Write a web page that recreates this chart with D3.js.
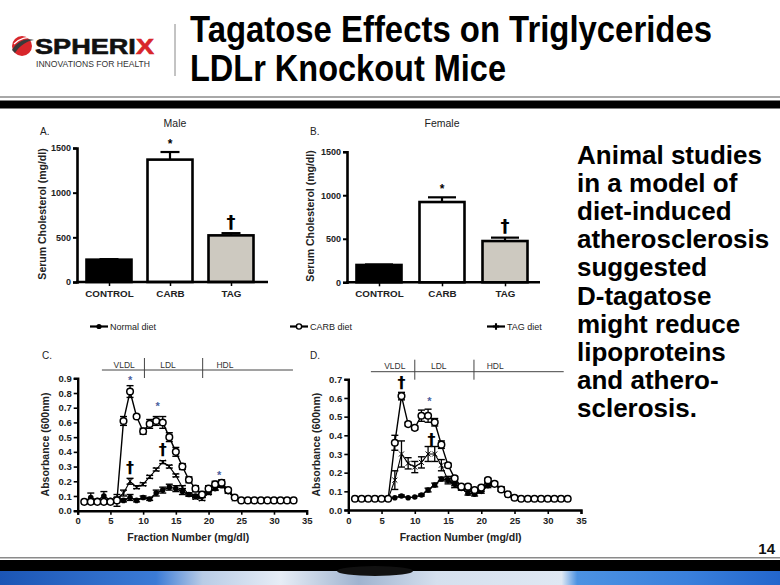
<!DOCTYPE html>
<html><head><meta charset="utf-8">
<script src="https://cdn.jsdelivr.net/npm/d3@7"></script>
<style>body{margin:0;background:#fff;} svg{display:block;}</style>
</head><body><svg id="c" width="780" height="585"></svg>
<script>
// ---------------- data ----------------
const titleLines = ["Tagatose Effects on Triglycerides", "LDLr Knockout Mice"];
const bulletLines = ["Animal studies", "in a model of", "diet-induced", "atherosclerosis",
  "suggested", "D-tagatose", "might reduce", "lipoproteins", "and athero-", "sclerosis."];

const categories = ["CONTROL", "CARB", "TAG"];
const maleMeans = [250, 1370, 522];
const maleErrors = [6, 85, 25];
const femaleMeans = [199, 922, 474];
const femaleErrors = [6, 54, 39];
const barTicks = [0, 500, 1000, 1500];
const barMarks = ["", "*", "\u2020"];

const fractions = [1,2,3,4,5,6,7,8,9,10,11,12,13,14,15,16,17,18,19,20,21,22,23,24,25,26,27,28,29,30,31,32,33];
const cNormal = [0.06,0.09,0.07,0.10,0.07,0.08,0.07,0.09,0.07,0.09,0.08,0.12,0.14,0.16,0.15,0.13,0.11,0.10,0.10,0.13,0.15,0.17,0.13,0.09,0.07,0.07,0.07,0.07,0.07,0.07,0.07,0.07,0.07];
const cNormalErr = [0,0.03,0,0.03,0,0.01,0.01,0.02,0.01,0.01,0.01,0.02,0.02,0.02,0.02,0.02,0.01,0.01,0.01,0.01,0.01,0.01,0.01,0,0,0,0,0,0,0,0,0,0];
const cCarb = [0.06,0.06,0.06,0.06,0.06,0.07,0.61,0.81,0.64,0.54,0.59,0.61,0.60,0.50,0.40,0.30,0.21,0.15,0.11,0.15,0.18,0.19,0.14,0.09,0.07,0.07,0.07,0.07,0.07,0.07,0.07,0.07,0.07];
const cCarbErr = [0,0,0,0,0,0.04,0.03,0.04,0.01,0.02,0.03,0.03,0.04,0.03,0.03,0.02,0.02,0.02,0.02,0.02,0.02,0.02,0.01,0,0,0,0,0,0,0,0,0,0];
const cTag = [0.06,0.06,0.06,0.06,0.06,0.08,0.12,0.20,0.16,0.18,0.23,0.28,0.33,0.30,0.24,0.16,0.11,0.09,0.08,0.12,0.15,0.17,0.13,0.08,0.07,0.07,0.07,0.07,0.07,0.07,0.07,0.07,0.07];
const cTagErr = [0,0,0,0,0,0.01,0.02,0.02,0.01,0.01,0.01,0.01,0.01,0.01,0.01,0.01,0.01,0.01,0.01,0.01,0.01,0.01,0.01,0,0,0,0,0,0,0,0,0,0];

const dNormal = [0.06,0.06,0.06,0.06,0.06,0.06,0.066,0.075,0.066,0.07,0.08,0.107,0.134,0.166,0.16,0.14,0.116,0.09,0.085,0.10,0.13,0.14,0.11,0.08,0.065,0.06,0.06,0.06,0.06,0.06,0.06,0.06,0.06];
const dNormalErr = [0,0,0,0,0,0,0,0.005,0,0,0.005,0.01,0.01,0.01,0.01,0.01,0.01,0.01,0.01,0.01,0.01,0.01,0.01,0,0,0,0,0,0,0,0,0,0];
const dCarb = [0.06,0.06,0.06,0.06,0.06,0.06,0.36,0.61,0.46,0.44,0.505,0.505,0.47,0.35,0.24,0.17,0.125,0.125,0.107,0.12,0.16,0.14,0.11,0.084,0.066,0.06,0.06,0.06,0.06,0.06,0.06,0.06,0.06];
const dCarbErr = [0,0,0,0,0,0,0.04,0.02,0.01,0.01,0.03,0.035,0.02,0.02,0.01,0.01,0.01,0.01,0.01,0.01,0.01,0.01,0.01,0,0,0,0,0,0,0,0,0,0];
const dTag = [0.06,0.06,0.06,0.06,0.06,0.06,0.16,0.30,0.25,0.23,0.255,0.30,0.30,0.24,0.16,0.13,0.12,0.11,0.10,0.11,0.14,0.14,0.115,0.08,0.065,0.06,0.06,0.06,0.06,0.06,0.06,0.06,0.06];
const dTagErr = [0,0,0,0,0,0,0.05,0.07,0.03,0.03,0.03,0.04,0.04,0.03,0.02,0.01,0.01,0.01,0.01,0.01,0.01,0.01,0.01,0,0,0,0,0,0,0,0,0,0];

const fractionTicks = [0,5,10,15,20,25,30,35];
const absTicksC = [0,0.1,0.2,0.3,0.4,0.5,0.6,0.7,0.8,0.9];
const absTicksD = [0,0.1,0.2,0.3,0.4,0.5,0.6,0.7];
const lipoNames = ["VLDL", "LDL", "HDL"];
const lipoLabelC = [7.1, 13.8, 22.5];
const lipoEdgesC = [3.7, 10.2, 19.1, 32.9];
const lipoLabelD = [7.0, 13.6, 22.1];
const lipoEdgesD = [3.4, 10.0, 18.9, 32.4];
const marksC = [{f:8, v:0.91, s:"*"}, {f:12.2, v:0.73, s:"*"}, {f:21.6, v:0.26, s:"*"}, {f:8, v:0.29, s:"\u2020"}, {f:13, v:0.41, s:"\u2020"}];
const marksD = [{f:8, v:0.68, s:"\u2020"}, {f:12.2, v:0.6, s:"*"}, {f:12.5, v:0.375, s:"\u2020"}];
const legendNames = ["Normal diet", "CARB diet", "TAG diet"];

// ---------------- drawing ----------------
const svg = d3.select("#c");
const SANS = "'Liberation Sans', Arial, sans-serif";
const NARROW = "'Liberation Sans Narrow', 'Arial Narrow', 'Liberation Sans', sans-serif";
svg.append("rect").attr("width", 780).attr("height", 585).attr("fill", "#fff");

// Header
const logo = svg.append("g");
logo.append("circle").attr("cx", 22).attr("cy", 46).attr("r", 10).attr("fill", "#d8262b");
logo.append("path").attr("d", "M12,50 C18,40 28,38 34,40 C27,41 20,45 15,53 Z").attr("fill", "#3a3a3a");
logo.append("path").attr("d", "M14,44 C20,38 27,37 31,38").attr("fill", "none").attr("stroke", "#fff").attr("stroke-width", 1.2);
const sp = logo.append("text").attr("x", 35).attr("y", 54).attr("font-family", SANS).attr("font-weight", "bold")
  .attr("font-size", 22).attr("textLength", 119).attr("lengthAdjust", "spacingAndGlyphs")
  .attr("stroke", "#111").attr("stroke-width", 0.6);
sp.append("tspan").text("SPHERI").attr("fill", "#111");
sp.append("tspan").text("X").attr("fill", "#d8262b").attr("stroke", "#d8262b");
logo.append("text").attr("x", 36).attr("y", 67).attr("font-family", NARROW).attr("font-size", 9)
  .attr("fill", "#333").attr("textLength", 114).attr("lengthAdjust", "spacingAndGlyphs").text("INNOVATIONS FOR HEALTH");
svg.append("line").attr("x1", 175).attr("x2", 175).attr("y1", 24).attr("y2", 76).attr("stroke", "#888").attr("stroke-width", 1);

const titleLens = [522, 316];
svg.selectAll("text.title").data(titleLines).join("text").attr("class", "title")
  .attr("x", 190).attr("y", (d, i) => 42 + i * 38.5)
  .attr("font-family", NARROW).attr("font-weight", "bold").attr("font-size", 36).attr("fill", "#000")
  .attr("textLength", (d, i) => titleLens[i]).attr("lengthAdjust", "spacingAndGlyphs").text(d => d);

svg.append("rect").attr("x", 0).attr("y", 96).attr("width", 780).attr("height", 2).attr("fill", "#a8a8a8");
svg.append("rect").attr("x", 0).attr("y", 100.5).attr("width", 780).attr("height", 8).attr("fill", "#000");

// Bullet text
svg.selectAll("text.bullet").data(bulletLines).join("text").attr("class", "bullet")
  .attr("x", 577).attr("y", (d, i) => 164.3 + i * 28.04)
  .attr("font-family", SANS).attr("font-weight", "bold").attr("font-size", 26).attr("fill", "#000").text(d => d);

// ---- Bar panels ----
function barPanel(p) {
  const g = svg.append("g");
  const y = d3.scaleLinear().domain([0, 1500]).range(p.yRange);
  const x = d3.scalePoint().domain(categories).range(p.xRange);
  const bw = 45;
  const fills = ["#000", "#fff", "#cdc9c0"];
  g.selectAll("rect.bar").data(categories).join("rect")
    .attr("x", d => x(d) - bw / 2).attr("width", bw)
    .attr("y", (d, i) => y(p.means[i])).attr("height", (d, i) => y(0) - y(p.means[i]))
    .attr("fill", (d, i) => fills[i]).attr("stroke", "#000").attr("stroke-width", 2.6);
  const eg = g.selectAll("g.err").data(categories).join("g");
  eg.append("line").attr("x1", d => x(d)).attr("x2", d => x(d))
    .attr("y1", (d, i) => y(p.means[i])).attr("y2", (d, i) => y(p.means[i] + p.errs[i]))
    .attr("stroke", "#000").attr("stroke-width", 2.2);
  eg.append("line").attr("x1", d => x(d) - p.cap / 2).attr("x2", d => x(d) + p.cap / 2)
    .attr("y1", (d, i) => y(p.means[i] + p.errs[i])).attr("y2", (d, i) => y(p.means[i] + p.errs[i]))
    .attr("stroke", "#000").attr("stroke-width", 2.2);
  g.selectAll("text.mk").data(categories).join("text")
    .attr("x", d => x(d)).attr("y", (d, i) => y(p.means[i] + p.errs[i]) - (barMarks[i] === "*" ? 4.5 : 5.5))
    .attr("text-anchor", "middle")
    .attr("font-family", (d, i) => barMarks[i] === "*" ? SANS : "'DejaVu Sans', sans-serif")
    .attr("font-weight", "bold").attr("font-size", (d, i) => barMarks[i] === "*" ? 12 : 18)
    .text((d, i) => barMarks[i]);
  const ya = g.append("g").attr("transform", `translate(${p.axisX},0)`)
    .call(d3.axisLeft(y).tickValues(barTicks).tickSize(4).tickPadding(2).tickFormat(d3.format("d")));
  ya.select(".domain").attr("stroke-width", 2.6);
  ya.selectAll(".tick line").attr("stroke-width", 2);
  ya.selectAll("text").attr("font-family", SANS).attr("font-weight", "bold").attr("font-size", 9).attr("fill", "#222");
  g.append("line").attr("x1", p.axisX - 1).attr("x2", p.axisEnd).attr("y1", y(0)).attr("y2", y(0))
    .attr("stroke", "#000").attr("stroke-width", 2.6);
  const xa = g.append("g").attr("transform", `translate(0,${y(0)})`)
    .call(d3.axisBottom(x).tickSize(4).tickPadding(4));
  xa.select(".domain").remove();
  xa.selectAll(".tick line").attr("stroke-width", 1.5);
  xa.selectAll("text").attr("font-family", SANS).attr("font-weight", "bold").attr("font-size", 9.8).attr("fill", "#222");
  g.append("text").attr("transform", `translate(${p.ylabX},${p.ylabY}) rotate(-90)`).attr("text-anchor", "middle")
    .attr("font-family", SANS).attr("font-weight", "bold").attr("font-size", 10.5).attr("fill", "#222")
    .text("Serum Cholesterol (mg/dl)");
  g.append("text").attr("x", p.titleX).attr("y", 127).attr("text-anchor", "middle")
    .attr("font-family", SANS).attr("font-size", 10.5).attr("fill", "#222").text(p.title);
  g.append("text").attr("x", p.letterX).attr("y", 135).attr("font-family", SANS).attr("font-size", 10)
    .attr("fill", "#222").text(p.letter);
}
barPanel({ yRange: [282, 148], xRange: [109, 231], axisX: 77, axisEnd: 268, means: maleMeans, errs: maleErrors,
  cap: 19, title: "Male", titleX: 175, letter: "A.", letterX: 40, ylabX: 46, ylabY: 214 });
barPanel({ yRange: [282.3, 151.7], xRange: [379, 505], axisX: 347, axisEnd: 540, means: femaleMeans, errs: femaleErrors,
  cap: 28, title: "Female", titleX: 442, letter: "B.", letterX: 310, ylabX: 314, ylabY: 216 });

// ---- Legend ----
const legX = [99, 299, 496];
const lg = svg.append("g");
legendNames.forEach((name, i) => {
  const cx = legX[i], cy = 326.5;
  lg.append("line").attr("x1", cx - 9).attr("x2", cx + 9).attr("y1", cy).attr("y2", cy).attr("stroke", "#000").attr("stroke-width", 2.2);
  if (i === 0) lg.append("circle").attr("cx", cx).attr("cy", cy).attr("r", 2.6).attr("fill", "#000");
  if (i === 1) lg.append("circle").attr("cx", cx).attr("cy", cy).attr("r", 2.6).attr("fill", "#fff").attr("stroke", "#000").attr("stroke-width", 1.4);
  if (i === 2) lg.append("path").attr("d", d3.symbol(d3.symbolCross, 22)()).attr("transform", `translate(${cx},${cy})`).attr("fill", "#000");
  lg.append("text").attr("x", cx + 11).attr("y", cy + 3).attr("font-family", SANS).attr("font-size", 9)
    .attr("fill", "#222").text(name);
});

// ---- Line panels ----
function linePanel(p) {
  const g = svg.append("g");
  const x = d3.scaleLinear().domain([0, 35]).range(p.xRange);
  const y = d3.scaleLinear().domain([0, p.yMax]).range(p.yRange);
  const line = d3.line().x((d, i) => x(fractions[i])).y(d => y(d));
  const series = [
    { v: p.tag, e: p.tagErr, kind: "tag" },
    { v: p.normal, e: p.normalErr, kind: "normal" },
    { v: p.carb, e: p.carbErr, kind: "carb" }
  ];
  series.forEach(s => {
    const sg = g.append("g");
    sg.append("path").datum(s.v).attr("d", line).attr("fill", "none").attr("stroke", "#000")
      .attr("stroke-width", s.kind === "tag" ? 1.1 : 1.4);
    s.v.forEach((v, i) => {
      const e = s.e[i];
      if (!e) return;
      const xx = x(fractions[i]);
      sg.append("line").attr("x1", xx).attr("x2", xx).attr("y1", y(v - e)).attr("y2", y(v + e)).attr("stroke", "#000").attr("stroke-width", 1.3);
      [v - e, v + e].forEach(t => sg.append("line").attr("x1", xx - 3.5).attr("x2", xx + 3.5).attr("y1", y(t)).attr("y2", y(t)).attr("stroke", "#000").attr("stroke-width", 1.4));
    });
    if (s.kind === "normal") {
      sg.selectAll("circle").data(s.v).join("circle").attr("cx", (d, i) => x(fractions[i])).attr("cy", d => y(d)).attr("r", 2.8).attr("fill", "#000");
    } else if (s.kind === "carb") {
      sg.selectAll("circle").data(s.v).join("circle").attr("cx", (d, i) => x(fractions[i])).attr("cy", d => y(d)).attr("r", 3.3)
        .attr("fill", "#fff").attr("stroke", "#000").attr("stroke-width", 1.5);
    } else {
      sg.selectAll("path.sym").data(s.v).join("path").attr("class", "sym")
        .attr("d", d3.symbol(d3.symbolX, 18)()).attr("transform", (d, i) => `translate(${x(fractions[i])},${y(d)})`)
        .attr("fill", "none").attr("stroke", "#000").attr("stroke-width", 1);
    }
  });
  g.selectAll("text.mk").data(p.marks).join("text")
    .attr("x", d => x(d.f)).attr("y", d => y(d.v) + (d.s === "*" ? 7 : 5))
    .attr("text-anchor", "middle")
    .attr("font-family", d => d.s === "*" ? SANS : "'DejaVu Sans', sans-serif")
    .attr("font-weight", "bold").attr("font-size", d => d.s === "*" ? 11 : 16)
    .attr("fill", d => d.s === "*" ? "#4a5fa0" : "#000").text(d => d.s);
  const ya = g.append("g").attr("transform", `translate(${x(0)},0)`)
    .call(d3.axisLeft(y).tickValues(p.yTicks).tickSize(4).tickPadding(2).tickFormat(d3.format(".1f")));
  const xa = g.append("g").attr("transform", `translate(0,${y(0)})`)
    .call(d3.axisBottom(x).tickValues(fractionTicks).tickSize(4).tickPadding(3));
  [ya, xa].forEach(a => {
    a.select(".domain").attr("stroke-width", 2.4);
    a.selectAll(".tick line").attr("stroke-width", 1.6);
    a.selectAll("text").attr("font-family", SANS).attr("font-weight", "bold").attr("font-size", 9.5).attr("fill", "#222");
  });
  const by = p.bracketY;
  g.append("line").attr("x1", x(p.edges[0])).attr("x2", x(p.edges[3])).attr("y1", by).attr("y2", by).attr("stroke", "#444").attr("stroke-width", 1);
  [p.edges[1], p.edges[2]].forEach(e => g.append("line").attr("x1", x(e)).attr("x2", x(e)).attr("y1", by - 12).attr("y2", by + 8).attr("stroke", "#444").attr("stroke-width", 1));
  g.selectAll("text.lipo").data(lipoNames).join("text").attr("x", (d, i) => x(p.labels[i])).attr("y", by - 2.5)
    .attr("text-anchor", "middle").attr("font-family", SANS).attr("font-size", 8.5).attr("fill", "#333").text(d => d);
  g.append("text").attr("x", x(17.5) - 4).attr("y", 541).attr("text-anchor", "middle")
    .attr("font-family", SANS).attr("font-weight", "bold").attr("font-size", 10.5).attr("fill", "#222").text("Fraction Number (mg/dl)");
  g.append("text").attr("transform", `translate(${p.ylabX},${(p.yRange[0] + p.yRange[1]) / 2}) rotate(-90)`).attr("text-anchor", "middle")
    .attr("font-family", SANS).attr("font-weight", "bold").attr("font-size", 10.5).attr("fill", "#222").text("Absorbance (600nm)");
  g.append("text").attr("x", p.letterX).attr("y", 359).attr("font-family", SANS).attr("font-size", 10).attr("fill", "#222").text(p.letter);
}
linePanel({ xRange: [77.7, 306.7], yRange: [510.7, 378.3], yMax: 0.9, yTicks: absTicksC,
  normal: cNormal, normalErr: cNormalErr, carb: cCarb, carbErr: cCarbErr, tag: cTag, tagErr: cTagErr,
  marks: marksC, edges: lipoEdgesC, labels: lipoLabelC, bracketY: 370, ylabX: 49, letter: "C.", letterX: 42 });
linePanel({ xRange: [348.3, 581], yRange: [510, 379.3], yMax: 0.7, yTicks: absTicksD,
  normal: dNormal, normalErr: dNormalErr, carb: dCarb, carbErr: dCarbErr, tag: dTag, tagErr: dTagErr,
  marks: marksD, edges: lipoEdgesD, labels: lipoLabelD, bracketY: 371.7, ylabX: 320, letter: "D.", letterX: 310 });

// ---- Footer ----
svg.append("text").attr("x", 775).attr("y", 554).attr("text-anchor", "end").attr("font-family", NARROW)
  .attr("font-weight", "bold").attr("font-size", 15).attr("fill", "#111").text("14");
svg.append("rect").attr("x", 0).attr("y", 557).attr("width", 780).attr("height", 1.5).attr("fill", "#8a8a8a");
svg.append("rect").attr("x", 0).attr("y", 560).attr("width", 780).attr("height", 11).attr("fill", "#000");
const defs = svg.append("defs");
const gr = defs.append("linearGradient").attr("id", "foot").attr("x1", 0).attr("x2", 1).attr("y1", 0).attr("y2", 0);
[[0, "#1b55b5"], [0.2, "#3b7bd6"], [0.26, "#b9cce6"], [0.36, "#e6edf6"], [0.46, "#9fb3cf"], [0.56, "#d5e0ee"],
 [0.72, "#dfe8f3"], [0.74, "#4c92e2"], [0.88, "#3a80dc"], [1, "#2366cc"]].forEach(s => gr.append("stop").attr("offset", s[0]).attr("stop-color", s[1]));
svg.append("rect").attr("x", 0).attr("y", 571).attr("width", 780).attr("height", 14).attr("fill", "url(#foot)");
svg.append("ellipse").attr("cx", 375).attr("cy", 571).attr("rx", 38).attr("ry", 5).attr("fill", "#111");
</script></body></html>
